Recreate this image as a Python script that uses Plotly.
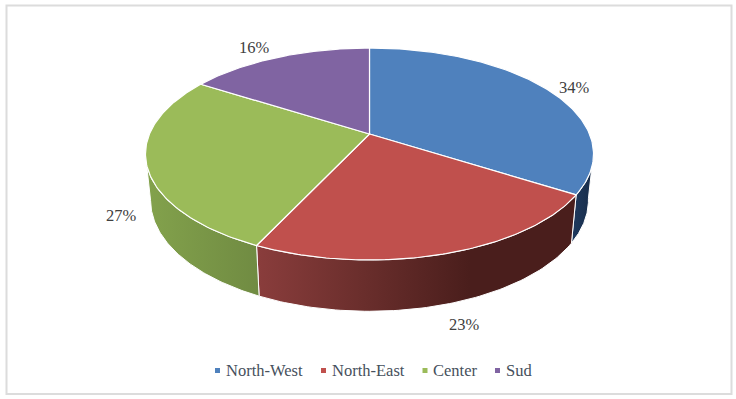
import numpy as np
import plotly.graph_objects as go

categories = ["North-West", "North-East", "Center", "Sud"]
shares = [34, 23, 27, 16]
top_colors = ["#4f81bd", "#c0504d", "#9bbb59", "#8064a2"]
side_colors = [
    ["#1f3a5f", "#182c48"],
    ["#8a3d3c", "#6a2e2c", "#4a1e1c", "#4a1e1c"],
    ["#83a24c", "#708b42"],
    ["#4d3c62", "#4d3c62"],
]

WIDTH, HEIGHT = 736, 399
TEXT_FONT = "Liberation Serif"

# perspective disc, fitted to the picture in pixels
CX = 369.5
TILT = 0.1887
TOP = dict(a=220, b=102.2, cy=134)
BOTTOM = dict(a=215, b=107, cy=179.4)


def rim(theta, disc):
    # theta in radians, clockwise from the top of the pie
    w = 1 + TILT * np.cos(theta)
    x = CX + disc["a"] * np.sin(theta) / w
    y = disc["cy"] - disc["b"] * np.cos(theta) / w
    return x, y


edges = np.cumsum([0] + shares) / sum(shares) * 2 * np.pi

fig = go.Figure()

# side walls first, only the part of the rim that faces the viewer
for i, name in enumerate(categories):
    start = max(edges[i], np.radians(100))
    end = min(edges[i + 1], np.radians(259))
    if start >= end:
        continue
    theta = np.linspace(start, end, 80)
    x_top, y_top = rim(theta, TOP)
    x_bot, y_bot = rim(theta, BOTTOM)
    stops = side_colors[i]
    # fill gradient runs left to right, theta runs right to left here
    fig.add_trace(go.Scatter(
        x=np.r_[x_top, x_bot[::-1], x_top[0]],
        y=np.r_[y_top, y_bot[::-1], y_top[0]],
        mode="lines", fill="toself",
        fillgradient=dict(
            type="horizontal",
            colorscale=[[j / (len(stops) - 1), c] for j, c in enumerate(stops)],
        ),
        line=dict(color="white", width=1),
        showlegend=False, hoverinfo="skip",
    ))

# top faces
for i, name in enumerate(categories):
    theta = np.linspace(edges[i], edges[i + 1], 120)
    x_top, y_top = rim(theta, TOP)
    fig.add_trace(go.Scatter(
        x=np.r_[CX, x_top, CX],
        y=np.r_[TOP["cy"], y_top, TOP["cy"]],
        mode="lines", fill="toself", fillcolor=top_colors[i],
        line=dict(color="white", width=1.2),
        name=name, showlegend=False, hoverinfo="name",
    ))

# percent labels
label_x = [574, 464, 121, 254]
label_y = [89, 326, 217, 49]
fig.add_trace(go.Scatter(
    x=label_x, y=label_y, mode="text",
    text=[f"{s}%" for s in shares],
    textfont=dict(family=TEXT_FONT, size=16.5, color="#404040"),
    showlegend=False, hoverinfo="skip",
))

# legend row, native legend can't get the swatch this close to its text
legend_x = [217.5, 323.5, 425, 497.5]
legend_text_x = [226, 332, 433, 506]
fig.add_trace(go.Scatter(
    x=legend_x, y=[370.5] * 4, mode="markers",
    marker=dict(symbol="square", size=5, color=top_colors),
    showlegend=False, hoverinfo="skip",
))
fig.add_trace(go.Scatter(
    x=legend_text_x, y=[372] * 4, mode="text",
    text=categories, textposition="middle right",
    textfont=dict(family=TEXT_FONT, size=16.5, color="#46505c"),
    showlegend=False, hoverinfo="skip",
))

fig.update_layout(
    width=WIDTH, height=HEIGHT,
    margin=dict(l=0, r=0, t=0, b=0),
    paper_bgcolor="white", plot_bgcolor="white",
    showlegend=False,
    xaxis=dict(range=[0, WIDTH], visible=False, fixedrange=True),
    yaxis=dict(range=[HEIGHT, 0], visible=False, fixedrange=True),
    shapes=[dict(type="rect", x0=6.5, x1=731.5, y0=5.5, y1=394,
                 line=dict(color="#dcdcdc", width=2), layer="below")],
)

# body margin would push the figure 8px down and right
fig.write_html(
    "out.html",
    config={"displayModeBar": False},
    post_script="document.body.style.margin = '0';",
)
